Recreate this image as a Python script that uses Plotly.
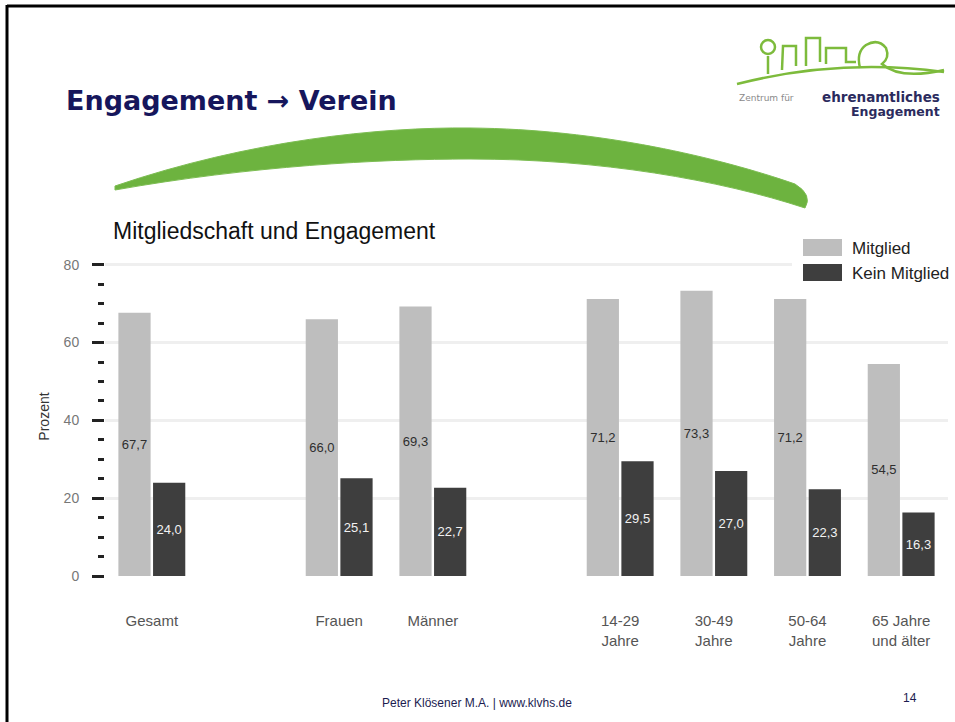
import re
import plotly.graph_objects as go

# ---------------- data ----------------
groups = ["Gesamt", "Frauen", "Männer", "14-29<br>Jahre", "30-49<br>Jahre",
          "50-64<br>Jahre", "65 Jahre<br>und älter"]
# axis order, with two empty spacer slots
category_order = ["Gesamt", " ", "Frauen", "Männer", "  ", "14-29<br>Jahre",
                  "30-49<br>Jahre", "50-64<br>Jahre", "65 Jahre<br>und älter"]
mitglied = [67.7, 66.0, 69.3, 71.2, 73.3, 71.2, 54.5]
kein_mitglied = [24.0, 25.1, 22.7, 29.5, 27.0, 22.3, 16.3]
y_ticks = [0, 20, 40, 60, 80]
series_names = ["Mitglied", "Kein Mitglied"]

# ---------------- layout helpers ----------------
W, H = 955, 722
ML, MR, MT, MB = 105, 7, 257, 146
PW, PH = W - ML - MR, H - MT - MB
FONT = "Liberation Sans, Arial, sans-serif"
C_LIGHT, C_DARK = "#bebebe", "#3e3e3e"


def px(x):
    return (x - ML) / PW


def py(y):
    return (H - MB - y) / PH


def path_px(d):
    def conv(m):
        return f"{px(float(m.group(1))):.5f},{py(float(m.group(2))):.5f}"
    return re.sub(r"(-?\d+\.?\d*)[ ,](-?\d+\.?\d*)", conv, d)


fig = go.Figure()
fig.add_bar(x=groups, y=mitglied, name=series_names[0], marker_color=C_LIGHT,
            marker_line_width=0, texttemplate="%{y:.1f}", textposition="inside",
            insidetextanchor="middle", textangle=0, constraintext="none",
            textfont=dict(family=FONT, size=13, color="#2e2e2e"), showlegend=False)
fig.add_bar(x=groups, y=kein_mitglied, name=series_names[1], marker_color=C_DARK,
            marker_line_width=0, texttemplate="%{y:.1f}", textposition="inside",
            insidetextanchor="middle", textangle=0, constraintext="none",
            textfont=dict(family=FONT, size=13, color="#f2f2f2"), showlegend=False)

shapes = []
# slide frame
shapes.append(dict(type="line", xref="paper", yref="paper", x0=px(7), x1=px(956),
                   y0=py(6), y1=py(6), line=dict(color="black", width=3)))
shapes.append(dict(type="line", xref="paper", yref="paper", x0=px(7), x1=px(7),
                   y0=py(5), y1=py(723), line=dict(color="black", width=3)))
# green swoosh
shapes.append(dict(type="path", xref="paper", yref="paper", layer="above",
                   path=path_px("M 115,186 C 250,140 380,127 470,128 C 600,129 720,158 795,184 "
                                "Q 813,195 805,208 C 720,180 600,159 470,159 "
                                "C 380,159 250,166 115,190 Z"),
                   fillcolor="#6db33f", line=dict(color="#7cbd52", width=1)))
# logo skyline
LOGO = "#7dbb3c"
shapes.append(dict(type="path", xref="paper", yref="paper", layer="above",
                   path=path_px("M 737,84 Q 840,58 944,72"),
                   line=dict(color=LOGO, width=2.5)))
shapes.append(dict(type="path", xref="paper", yref="paper", layer="above",
                   path=path_px("M 768,74 L 768,56 M 782,70 L 783,46 L 796,46 L 796,66 "
                                "M 806,66 L 806,38 L 820,38 L 820,62 "
                                "M 826,64 L 826,48 L 846,48 L 846,62 L 856,62 "
                                "M 860,68 Q 856,52 866,45 Q 878,38 886,48 Q 890,58 882,64 "
                                "Q 900,80 944,70"),
                   line=dict(color=LOGO, width=2.5)))
shapes.append(dict(type="circle", xref="paper", yref="paper", layer="above",
                   x0=px(761), x1=px(775), y0=py(54), y1=py(40),
                   line=dict(color=LOGO, width=2.5)))
# legend (white backing + swatches)
shapes.append(dict(type="rect", xref="paper", yref="paper", layer="above",
                   x0=px(792), x1=px(956), y0=py(229), y1=py(292),
                   fillcolor="white", line=dict(width=0)))
shapes.append(dict(type="rect", xref="paper", yref="paper", layer="above",
                   x0=px(803), x1=px(842), y0=py(239), y1=py(256),
                   fillcolor=C_LIGHT, line=dict(width=0)))
shapes.append(dict(type="rect", xref="paper", yref="paper", layer="above",
                   x0=px(803), x1=px(842), y0=py(264), y1=py(281),
                   fillcolor=C_DARK, line=dict(width=0)))

ann = []
ann.append(dict(text="<b>Engagement → Verein</b>", x=px(64), y=py(101),
                xanchor="left", yanchor="middle",
                font=dict(family="DejaVu Sans, sans-serif", size=27, color="#16165c")))
ann.append(dict(text="Mitgliedschaft und Engagement", x=px(111), y=py(231),
                xanchor="left", yanchor="middle",
                font=dict(family=FONT, size=23, color="#111111")))
ann.append(dict(text=series_names[0], x=px(850), y=py(248), xanchor="left", yanchor="middle",
                font=dict(family=FONT, size=17, color="#222222")))
ann.append(dict(text=series_names[1], x=px(850), y=py(273), xanchor="left", yanchor="middle",
                font=dict(family=FONT, size=17, color="#222222")))
ann.append(dict(text="Peter Klösener M.A. | www.klvhs.de", x=px(477), y=py(703),
                xanchor="center", yanchor="middle",
                font=dict(family=FONT, size=12, color="#1c1c50")))
ann.append(dict(text="14", x=px(910), y=py(698), xanchor="center", yanchor="middle",
                font=dict(family=FONT, size=12, color="#1c1c50")))
ann.append(dict(text="Zentrum für", x=px(737), y=py(98), xanchor="left", yanchor="middle",
                font=dict(family="DejaVu Sans, sans-serif", size=9, color="#8a8a8a")))
ann.append(dict(text="<b>ehrenamtliches</b>", x=px(942), y=py(97), xanchor="right",
                yanchor="middle",
                font=dict(family="DejaVu Sans, sans-serif", size=13.5, color="#2b2b5e")))
ann.append(dict(text="<b>Engagement</b>", x=px(942), y=py(111), xanchor="right",
                yanchor="middle",
                font=dict(family="DejaVu Sans, sans-serif", size=12.5, color="#2b2b5e")))
for a in ann:
    a.update(xref="paper", yref="paper", showarrow=False)

fig.update_layout(
    width=W, height=H, autosize=False,
    margin=dict(l=ML, r=MR, t=MT, b=MB, pad=0),
    paper_bgcolor="white", plot_bgcolor="white",
    barmode="group", bargap=0.26, bargroupgap=0.07,
    separators=",.",
    showlegend=False,
    font=dict(family=FONT),
    shapes=shapes, annotations=ann,
    xaxis=dict(type="category", categoryorder="array", categoryarray=category_order,
               range=[-0.5, 8.5], showgrid=False, zeroline=False, showline=False,
               ticks="", ticklabelstandoff=34,
               tickfont=dict(family=FONT, size=15, color="#555555")),
    yaxis=dict(range=[0, 82], tickmode="array", tickvals=y_ticks,
               ticks="outside", ticklen=12, tickwidth=3, tickcolor="#222222",
               minor=dict(tick0=0, dtick=5, ticks="outside", ticklen=6, tickwidth=3,
                          tickcolor="#222222", showgrid=False),
               showgrid=True, gridcolor="#efefef", gridwidth=3,
               zeroline=False, showline=False, ticklabelstandoff=10,
               tickfont=dict(family=FONT, size=14, color="#777777"),
               title=dict(text="Prozent", standoff=10,
                          font=dict(family=FONT, size=14, color="#333333"))),
)

fig.write_html("out.html", config={"displayModeBar": False},
               post_script="document.body.style.margin='0';"
                           "document.body.style.overflow='hidden';")
